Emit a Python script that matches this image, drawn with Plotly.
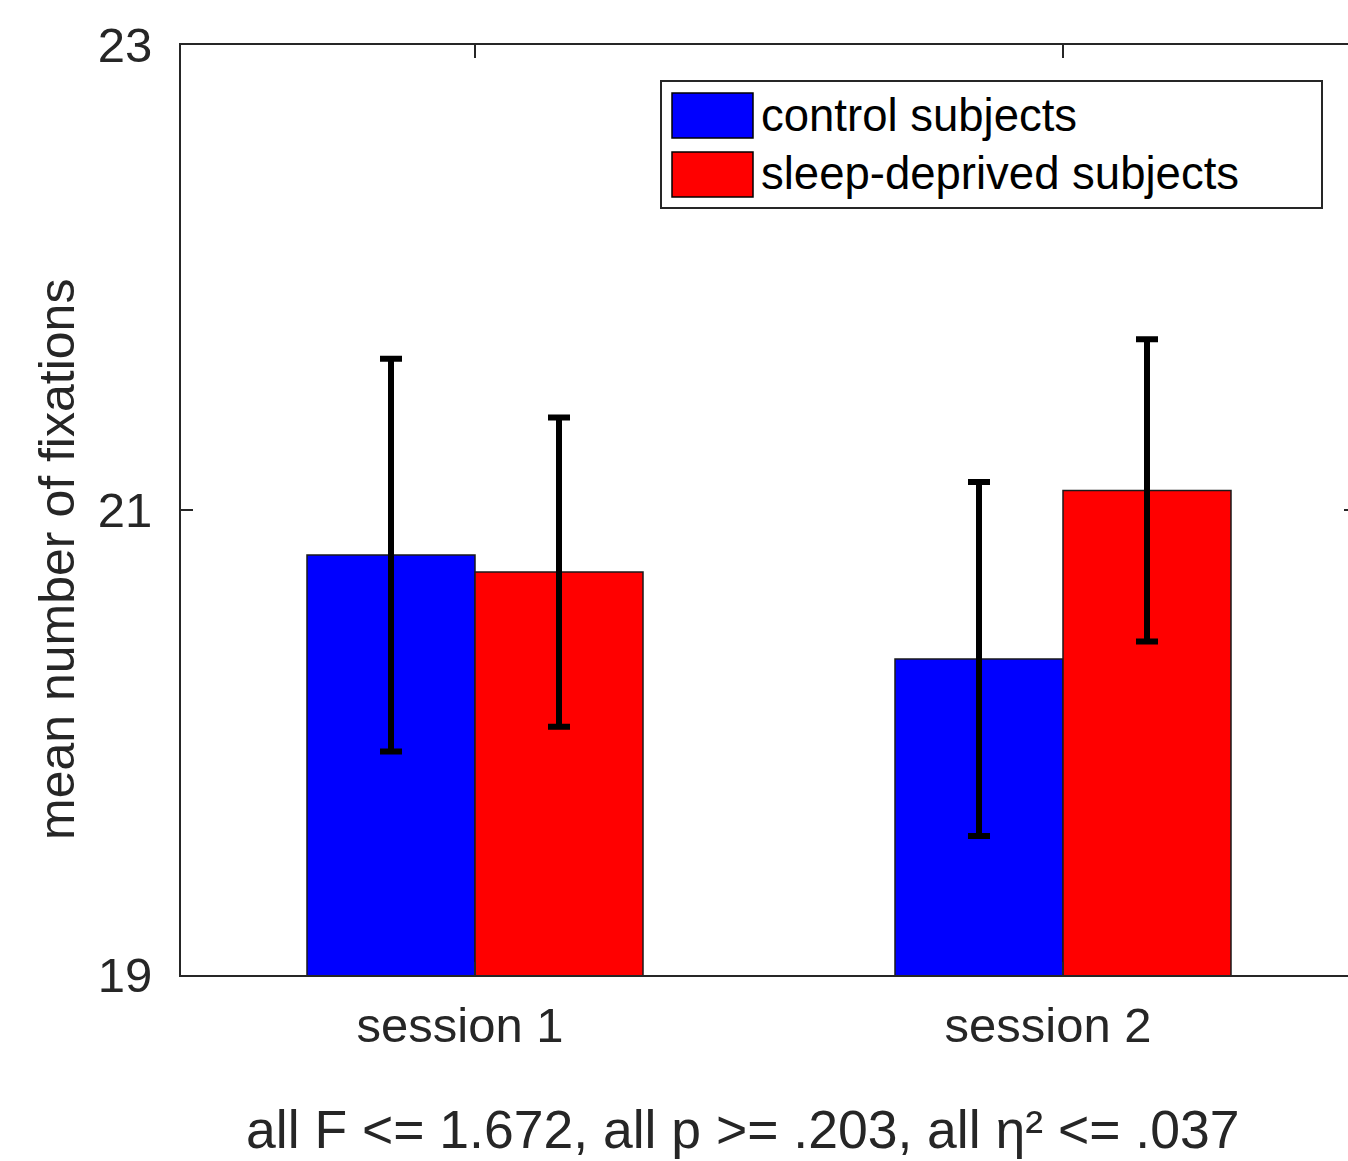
import plotly.graph_objects as go

# Grouped bar data: mean number of fixations per session
sessions = [1, 2]
session_labels = ["session 1", "session 2"]
control_means = [20.806, 20.359]
control_err = [0.845, 0.761]
deprived_means = [20.733, 21.084]
deprived_err = [0.665, 0.650]
series_names = ["control subjects", "sleep-deprived subjects"]
series_colors = ["#0000FF", "#FF0000"]
y_ticks = [19, 21, 23]
stats_text = "all F <= 1.672, all p >= .203, all η² <= .037"

FONT = "Liberation Sans, Arial, Helvetica, sans-serif"
AXIS_COLOR = "#262626"

W, H = 1348, 1161
ML, MR, MT, MB = 181, 0, 45, 186
PW, PH = W - ML - MR, H - MT - MB

fig = go.Figure()
for name, means, errs, color in [
    (series_names[0], control_means, control_err, series_colors[0]),
    (series_names[1], deprived_means, deprived_err, series_colors[1]),
]:
    fig.add_trace(go.Bar(
        x=sessions, y=means, name=name,
        marker=dict(color=color, line=dict(color="#1a1a1a", width=1.5)),
        error_y=dict(type="data", array=errs, visible=True,
                     color="black", thickness=6, width=11),
        showlegend=False,
    ))

# x range: one category unit spans 588 px
x_max = 0.5 + PW / 588.0

fig.update_layout(
    width=W, height=H,
    margin=dict(l=ML, r=MR, t=MT, b=MB, pad=0),
    paper_bgcolor="white", plot_bgcolor="white",
    barmode="group", bargap=1 - 336 / 588, bargroupgap=0,
    font=dict(family=FONT, size=49, color=AXIS_COLOR),
    xaxis=dict(
        range=[0.5, x_max], tickvals=sessions, ticktext=session_labels,
        showline=True, linecolor=AXIS_COLOR, linewidth=2, mirror="ticks",
        ticks="inside", ticklen=13, tickwidth=2, tickcolor=AXIS_COLOR,
        showgrid=False, zeroline=False,
        tickfont=dict(family=FONT, size=49, color=AXIS_COLOR),
        ticklabelshift=-15, ticklabelstandoff=6,
    ),
    yaxis=dict(
        range=[19, 23], tickvals=y_ticks,
        showline=True, linecolor=AXIS_COLOR, linewidth=2, mirror=False,
        ticks="inside", ticklen=12, tickwidth=2, tickcolor=AXIS_COLOR,
        showgrid=False, zeroline=False,
        tickfont=dict(family=FONT, size=49, color=AXIS_COLOR),
        ticklabelstandoff=17,
    ),
)

def px_x(px):
    return (px - ML) / PW

def px_y(py):
    return 1 - (py - MT) / PH

# Small right-side tick at 21
fig.add_shape(type="line", xref="paper", yref="y",
              x0=px_x(1344), x1=1.0, y0=21, y1=21,
              line=dict(color=AXIS_COLOR, width=2))

# Legend box with swatches
fig.add_shape(type="rect", xref="paper", yref="paper",
              x0=px_x(661), x1=px_x(1322), y0=px_y(208), y1=px_y(81),
              line=dict(color=AXIS_COLOR, width=2), fillcolor="white", layer="above")
rows = [(93, 138, 116), (152, 197, 175)]
for (top, bot, mid), name, color in zip(rows, series_names, series_colors):
    fig.add_shape(type="rect", xref="paper", yref="paper",
                  x0=px_x(672), x1=px_x(753), y0=px_y(bot), y1=px_y(top),
                  line=dict(color="black", width=1.5), fillcolor=color, layer="above")
    fig.add_annotation(xref="paper", yref="paper", x=px_x(759), y=px_y(mid - 1),
                       text=name, showarrow=False, xanchor="left", yanchor="middle",
                       font=dict(family=FONT, size=45.5, color="black"))

# Axis title
fig.add_annotation(xref="paper", yref="paper", x=px_x(57), y=px_y(560),
                   text="mean number of fixations", textangle=-90, showarrow=False,
                   xanchor="center", yanchor="middle",
                   font=dict(family=FONT, size=50, color=AXIS_COLOR))

# Statistics line below the axis
fig.add_annotation(xref="paper", yref="paper", x=px_x(742), y=px_y(1160),
                   text=stats_text, showarrow=False, borderpad=0,
                   xanchor="center", yanchor="bottom",
                   font=dict(family=FONT, size=53.5, color=AXIS_COLOR))

fig.write_html("out.html")
